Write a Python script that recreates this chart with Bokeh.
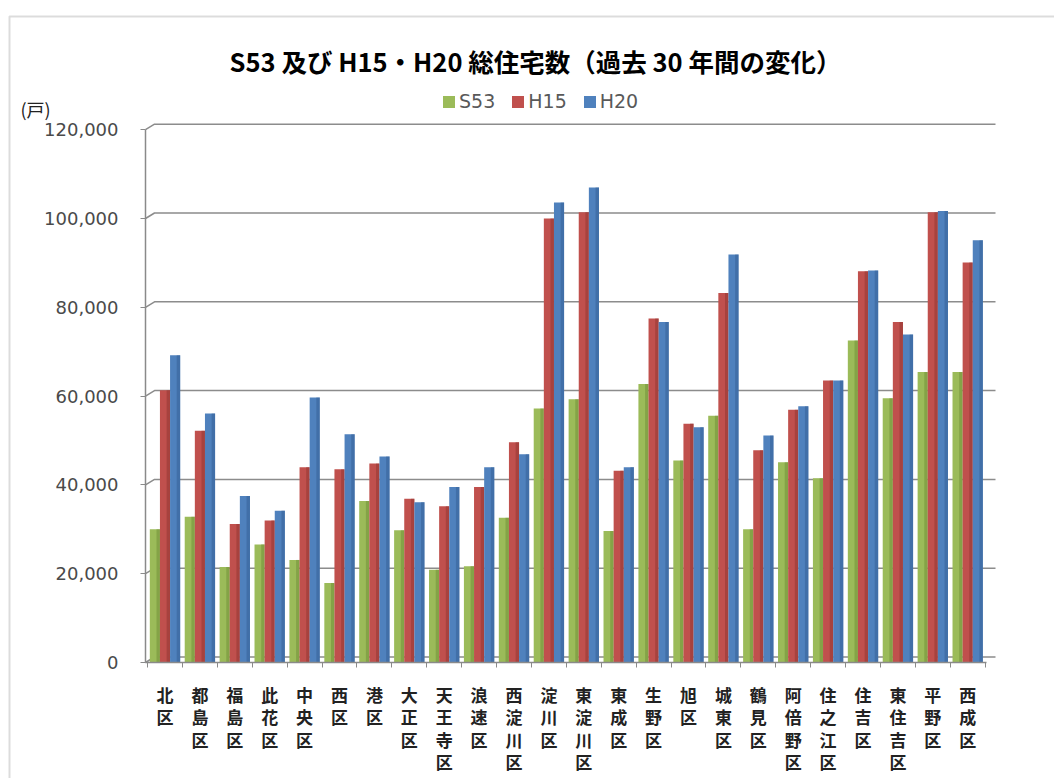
from bokeh.plotting import figure
from bokeh.models import (Range1d, FixedTicker, NumeralTickFormatter, Label,
                          Legend, LegendItem, BoxAnnotation, ColumnDataSource)
from bokeh.transform import dodge
from bokeh.embed import file_html
from bokeh.resources import INLINE

wards = ["北区", "都島区", "福島区", "此花区", "中央区", "西区", "港区", "大正区",
         "天王寺区", "浪速区", "西淀川区", "淀川区", "東淀川区", "東成区", "生野区",
         "旭区", "城東区", "鶴見区", "阿倍野区", "住之江区", "住吉区", "東住吉区",
         "平野区", "西成区"]
s53 = [30000, 32800, 21500, 26600, 23100, 17900, 36400, 29800, 20900, 21700, 32600,
       57200, 59300, 29600, 62700, 45500, 55600, 30000, 45100, 41500, 72500, 59500,
       65400, 65400]
h15 = [61300, 52200, 31200, 32000, 44000, 43500, 44800, 36900, 35200, 39500, 49600,
       100000, 101400, 43200, 77500, 53800, 83200, 47800, 56900, 63500, 88100, 76700,
       101400, 90100]
h20 = [69200, 56100, 37500, 34200, 59700, 51400, 46400, 36100, 39500, 44000, 46900,
       103600, 107000, 44000, 76700, 53000, 91900, 51100, 57700, 63500, 88300, 73900,
       101700, 95100]
series = ["S53", "H15", "H20"]
y_ticks = [0, 20000, 40000, 60000, 80000, 100000, 120000]

W, H = 1054, 778
X0, PXU = 164.5, 34.9      # pixel of first group centre, pixels per group
Y0, PY = 662.0, 4.44       # pixel of value 0, pixels per 1000


def dx(px):
    return (px - X0) / PXU


def dy(py):
    return (Y0 - py) * 1000.0 / PY


colors = ["#9BBB59", "#C0504D", "#4F81BD"]
sides = ["#6E8B35", "#8E3330", "#345E93"]
offsets = [-0.29, 0.0, 0.29]
BW = 0.29

src = ColumnDataSource(dict(x=list(range(len(wards))), S53=s53, H15=h15, H20=h20))

p = figure(width=W, height=H, output_backend="svg", toolbar_location=None,
           x_range=Range1d(dx(0), dx(W)), y_range=Range1d(dy(H), dy(0)),
           min_border=0, outline_line_color=None,
           background_fill_color="white", border_fill_color="white")

ax_x = dx(145)
ax_r = dx(986)

# back-wall gridlines with the small 3D diagonal at the left
gdx, gdy = 9.0 / PXU, 5.5 * 1000.0 / PY
p.multi_line(xs=[[ax_x, ax_x + gdx, ax_r + gdx] for v in y_ticks],
             ys=[[v, v + gdy, v + gdy] for v in y_ticks],
             line_color="#8c8c8c", line_width=1.5)

renderers = []
for name, c, sc, off in zip(series, colors, sides, offsets):
    r = p.vbar(x=dodge("x", off, range=p.x_range), top=name, width=BW, bottom=0,
               source=src, fill_color=c, line_color=None)
    p.vbar(x=dodge("x", off + BW * 0.33, range=p.x_range), top=name, width=BW * 0.34,
           bottom=0, source=src, fill_color=sc, line_color=None, fill_alpha=0.5)
    renderers.append(r)

# axes placed inside the full-canvas frame
p.xgrid.grid_line_color = None
p.ygrid.grid_line_color = None

p.yaxis.fixed_location = ax_x
p.yaxis.bounds = (0, 120000)
p.yaxis.ticker = FixedTicker(ticks=y_ticks)
p.yaxis.formatter = NumeralTickFormatter(format="0,0")
p.yaxis.major_label_text_font = "DejaVu Sans"
p.yaxis.major_label_text_font_size = "18px"
p.yaxis.major_label_text_color = "#4a4a4a"
p.yaxis.major_label_standoff = 22
p.yaxis.major_tick_out = 5
p.yaxis.major_tick_in = 0
p.yaxis.minor_tick_line_color = None
p.yaxis.axis_line_color = "#8a8a8a"
p.yaxis.axis_line_width = 1.5
p.yaxis.major_tick_line_color = "#8a8a8a"

p.xaxis.fixed_location = 0
p.xaxis.bounds = (ax_x, ax_r)
p.xaxis.ticker = FixedTicker(ticks=list(range(len(wards))),
                             minor_ticks=[i + 0.5 for i in range(-1, len(wards))])
p.xaxis.major_label_overrides = {i: "\n".join(list(w)) for i, w in enumerate(wards)}
p.xaxis.major_label_text_font = "Noto Sans CJK JP"
p.xaxis.major_label_text_font_size = "17px"
p.xaxis.major_label_text_font_style = "bold"
p.xaxis.major_label_text_color = "#222222"
p.xaxis.major_label_text_line_height = 0.9
p.xaxis.major_label_standoff = 13
p.xaxis.major_tick_line_color = None
p.xaxis.minor_tick_out = 5
p.xaxis.minor_tick_in = 0
p.xaxis.minor_tick_line_color = "#8a8a8a"
p.xaxis.axis_line_color = "#8a8a8a"
p.xaxis.axis_line_width = 1.5

# title, unit label, legend, outer border
p.add_layout(Label(x=dx(535), y=dy(60),
                   text="S53 及び H15・H20 総住宅数（過去 30 年間の変化）",
                   text_align="center", text_baseline="middle",
                   text_font="Noto Sans CJK JP", text_font_size="25.5px",
                   text_font_style="bold", text_color="#000000"))
p.add_layout(Label(x=dx(20), y=dy(108), text="(戸)",
                   text_align="left", text_baseline="middle",
                   text_font="Noto Sans CJK JP", text_font_size="18px",
                   text_color="#222222"))

legend = Legend(items=[LegendItem(label=n, renderers=[r]) for n, r in zip(series, renderers)],
                location=(441, H - 112), orientation="horizontal",
                border_line_color=None, background_fill_alpha=0,
                label_text_font="DejaVu Sans", label_text_font_size="19px",
                label_text_color="#595959", glyph_width=15, glyph_height=15,
                spacing=15, padding=0, margin=0, label_standoff=3)
p.add_layout(legend, "center")

p.add_layout(BoxAnnotation(left=dx(9), right=dx(1070), top=dy(16), bottom=dy(800),
                           fill_alpha=0, line_color="#8c8c8c", line_width=2))

open("out.html", "w").write(file_html(p, INLINE))
